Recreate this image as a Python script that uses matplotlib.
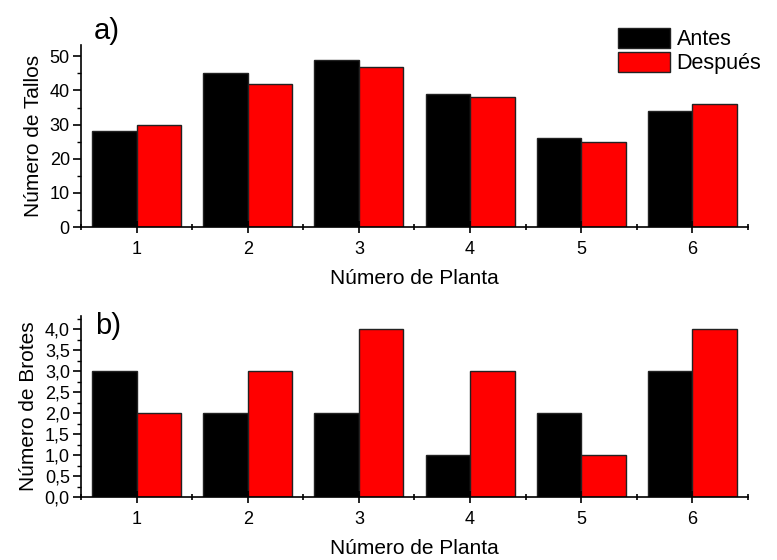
import numpy as np
import matplotlib
matplotlib.use('Agg')
import matplotlib.pyplot as plt
from matplotlib.ticker import MultipleLocator, FuncFormatter

plt.rcParams['font.family'] = ['Liberation Sans', 'DejaVu Sans']

plantas = [1, 2, 3, 4, 5, 6]
tallos_antes = [28, 45, 49, 39, 26, 34]
tallos_despues = [30, 42, 47, 38, 25, 36]
brotes_antes = [3, 2, 2, 1, 2, 3]
brotes_despues = [2, 3, 4, 3, 1, 4]

ancho = 0.4
x = np.array(plantas)

fig = plt.figure(figsize=(7.77, 5.6), dpi=100)
ax1 = fig.add_axes([0.1042, 0.5946, 0.8585, 0.325])
ax2 = fig.add_axes([0.1042, 0.1125, 0.8585, 0.3232])


def estilo(ax):
    for lado in ['top', 'right']:
        ax.spines[lado].set_visible(False)
    for lado in ['left', 'bottom']:
        ax.spines[lado].set_linewidth(1.2)
    ax.set_xlim(0.5, 6.5)
    ax.set_xticks(plantas)
    ax.xaxis.set_minor_locator(MultipleLocator(1, offset=0.5))
    ax.tick_params(axis='x', which='major', direction='inout', length=8, width=1.2,
                   labelsize=13, pad=6)
    ax.tick_params(axis='x', which='minor', direction='inout', length=5, width=1.2)
    ax.tick_params(axis='y', which='major', direction='out', length=6, width=1.2,
                   labelsize=13, pad=2)
    ax.tick_params(axis='y', which='minor', direction='out', length=3, width=1.0)
    ax.set_xlabel('Número de Planta', fontsize=15, labelpad=8)


# Grafico a) numero de tallos
ax1.bar(x - ancho / 2, tallos_antes, ancho, color='black', edgecolor='#222222',
        linewidth=1, label='Antes')
ax1.bar(x + ancho / 2, tallos_despues, ancho, color='#ff0000', edgecolor='#222222',
        linewidth=1, label='Después')
estilo(ax1)
ax1.set_ylim(0, 53.3)
ax1.yaxis.set_major_locator(MultipleLocator(10))
ax1.yaxis.set_minor_locator(MultipleLocator(5))
ax1.set_ylabel('Número de Tallos', fontsize=15, labelpad=5)
ax1.legend(loc='upper right', bbox_to_anchor=(1.036, 1.155), frameon=False, fontsize=15.5,
           handlelength=2.4, handleheight=1.05, labelspacing=0.1, handletextpad=0.3,
           borderpad=0)
fig.text(0.121, 0.945, 'a)', fontsize=21, va='center')

# Grafico b) numero de brotes
ax2.bar(x - ancho / 2, brotes_antes, ancho, color='black', edgecolor='#222222',
        linewidth=1)
ax2.bar(x + ancho / 2, brotes_despues, ancho, color='#ff0000', edgecolor='#222222',
        linewidth=1)
estilo(ax2)
ax2.set_ylim(0, 4.31)
ax2.yaxis.set_major_locator(MultipleLocator(0.5))
ax2.yaxis.set_minor_locator(MultipleLocator(0.25))
ax2.yaxis.set_major_formatter(FuncFormatter(lambda v, p: f'{v:.1f}'.replace('.', ',')))
ax2.set_ylabel('Número de Brotes', fontsize=15, labelpad=5)
fig.text(0.123, 0.418, 'b)', fontsize=21, va='center')

plt.savefig('out.png', dpi=100)
